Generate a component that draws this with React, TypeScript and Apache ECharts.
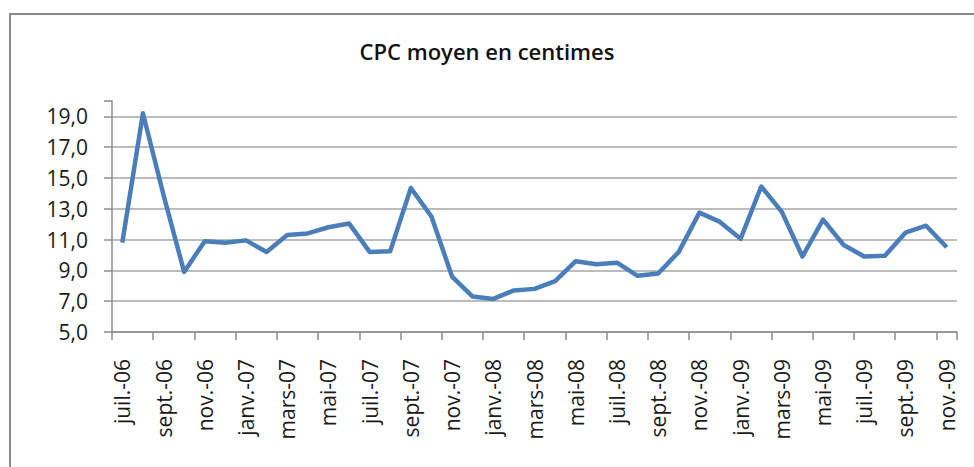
import React, { useEffect, useRef } from "react";
import * as echarts from "echarts";

const TITLE = "CPC moyen en centimes";

const MONTHS = [
  "juil.-06", "août-06", "sept.-06", "oct.-06", "nov.-06", "déc.-06",
  "janv.-07", "févr.-07", "mars-07", "avr.-07", "mai-07", "juin-07",
  "juil.-07", "août-07", "sept.-07", "oct.-07", "nov.-07", "déc.-07",
  "janv.-08", "févr.-08", "mars-08", "avr.-08", "mai-08", "juin-08",
  "juil.-08", "août-08", "sept.-08", "oct.-08", "nov.-08", "déc.-08",
  "janv.-09", "févr.-09", "mars-09", "avr.-09", "mai-09", "juin-09",
  "juil.-09", "août-09", "sept.-09", "oct.-09", "nov.-09",
];

const CPC = [
  10.8, 19.2, 13.9, 8.9, 10.9, 10.8,
  10.95, 10.2, 11.3, 11.4, 11.8, 12.05,
  10.2, 10.25, 14.35, 12.5, 8.6, 7.3,
  7.15, 7.7, 7.8, 8.3, 9.6, 9.4,
  9.5, 8.65, 8.8, 10.2, 12.75, 12.15,
  11.05, 14.45, 12.8, 9.9, 12.3, 10.65,
  9.9, 9.95, 11.45, 11.9, 10.5,
];

const Y_MIN = 5;
const Y_MAX = 20;
const Y_STEP = 2;

const FONT = "'Open Sans', 'Noto Sans', sans-serif";

export default function App() {
  const ref = useRef<HTMLDivElement>(null);

  useEffect(() => {
    if (!ref.current) return;
    const chart = echarts.init(ref.current, null, { renderer: "svg" });
    chart.setOption({
      animation: false,
      backgroundColor: "#ffffff",
      textStyle: { fontFamily: FONT },
      graphic: [
        {
          type: "rect",
          shape: { x: 10, y: 14, width: 1000, height: 500 },
          style: { fill: "none", stroke: "#8a8a8a", lineWidth: 2 },
          silent: true,
        },
      ],
      title: {
        text: TITLE,
        left: "center",
        top: 35,
        textStyle: {
          fontFamily: FONT,
          fontSize: 22,
          fontWeight: 600,
          color: "#111111",
        },
      },
      grid: { left: 112, right: 17, top: 101, bottom: 135 },
      xAxis: {
        type: "category",
        data: MONTHS,
        boundaryGap: true,
        axisLine: { show: true, lineStyle: { color: "#8c8c8c", width: 1.5 } },
        axisTick: {
          show: true,
          interval: 1,
          length: 8,
          lineStyle: { color: "#8c8c8c", width: 1.5 },
        },
        axisLabel: {
          interval: 1,
          rotate: 90,
          margin: 27,
          fontFamily: FONT,
          fontSize: 21,
          color: "#1a1a1a",
        },
        splitLine: { show: false },
      },
      yAxis: {
        type: "value",
        min: Y_MIN,
        max: Y_MAX,
        interval: Y_STEP,
        axisLine: { show: true, lineStyle: { color: "#8c8c8c", width: 1.5 } },
        axisTick: {
          show: true,
          length: 8,
          lineStyle: { color: "#8c8c8c", width: 1.5 },
        },
        axisLabel: {
          margin: 24,
          fontFamily: FONT,
          fontSize: 21,
          color: "#1a1a1a",
          formatter: (v: number) =>
            v >= Y_MAX ? "" : v.toFixed(1).replace(".", ","),
        },
        splitLine: {
          show: true,
          showMaxLine: false,
          lineStyle: { color: "#a6a6a6", width: 1.5 },
        },
      },
      series: [
        {
          type: "line",
          data: CPC,
          symbol: "none",
          lineStyle: { color: "#4a7ebb", width: 4.5, join: "round" },
          itemStyle: { color: "#4a7ebb" },
        },
      ],
    });
    return () => chart.dispose();
  }, []);

  return (
    <div
      ref={ref}
      style={{ position: "absolute", left: 0, top: 0, width: 974, height: 467 }}
    />
  );
}
